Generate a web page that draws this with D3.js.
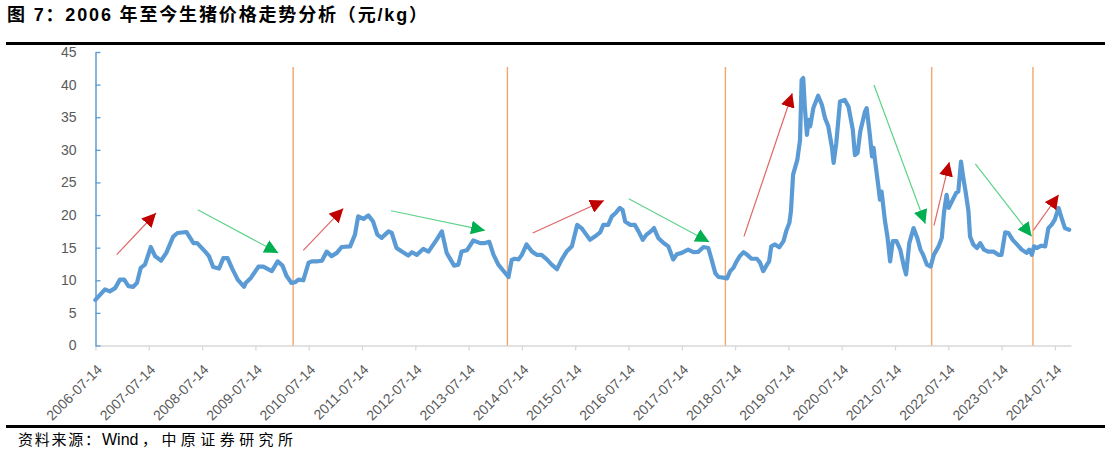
<!DOCTYPE html>
<html><head><meta charset="utf-8">
<script src="https://cdn.jsdelivr.net/npm/d3@7"></script>
<style>
html,body{margin:0;padding:0;background:#fff;}
svg{display:block;}
</style></head>
<body>
<svg id="chart" width="1110" height="452"></svg>
<script>
// ---- data (decimal year, price yuan/kg) ----
const years = [2006.53,2006.71,2006.80,2006.90,2006.99,2007.07,2007.15,2007.24,2007.31,2007.38,2007.46,2007.57,2007.65,2007.76,2007.86,2007.99,2008.07,2008.24,2008.37,2008.44,2008.59,2008.66,2008.74,2008.85,2008.93,2009.01,2009.09,2009.20,2009.32,2009.35,2009.45,2009.59,2009.68,2009.84,2009.95,2010.04,2010.12,2010.21,2010.28,2010.34,2010.43,2010.53,2010.59,2010.68,2010.78,2010.87,2010.96,2011.06,2011.15,2011.31,2011.40,2011.46,2011.56,2011.65,2011.74,2011.82,2011.90,2012.03,2012.09,2012.18,2012.28,2012.40,2012.47,2012.56,2012.68,2012.78,2012.93,2013.03,2013.12,2013.26,2013.34,2013.40,2013.50,2013.62,2013.75,2013.84,2013.92,2014.00,2014.09,2014.18,2014.28,2014.34,2014.40,2014.47,2014.53,2014.62,2014.72,2014.81,2014.90,2015.00,2015.09,2015.19,2015.28,2015.37,2015.47,2015.57,2015.65,2015.74,2015.81,2015.90,2016.00,2016.06,2016.15,2016.22,2016.30,2016.37,2016.42,2016.47,2016.56,2016.65,2016.72,2016.80,2016.87,2016.95,2017.01,2017.09,2017.19,2017.28,2017.37,2017.44,2017.53,2017.65,2017.75,2017.84,2017.94,2018.03,2018.09,2018.16,2018.22,2018.31,2018.38,2018.44,2018.50,2018.56,2018.62,2018.69,2018.76,2018.84,2018.94,2019.00,2019.06,2019.13,2019.17,2019.21,2019.28,2019.36,2019.44,2019.49,2019.55,2019.58,2019.62,2019.70,2019.75,2019.78,2019.81,2019.84,2019.88,2019.91,2019.94,2020.00,2020.09,2020.16,2020.22,2020.28,2020.35,2020.38,2020.43,2020.50,2020.59,2020.66,2020.74,2020.78,2020.83,2020.88,2020.97,2021.00,2021.06,2021.10,2021.13,2021.16,2021.22,2021.25,2021.28,2021.31,2021.34,2021.39,2021.44,2021.49,2021.56,2021.63,2021.70,2021.74,2021.80,2021.88,2021.95,2022.01,2022.06,2022.13,2022.20,2022.26,2022.35,2022.41,2022.45,2022.50,2022.54,2022.60,2022.68,2022.72,2022.77,2022.81,2022.86,2022.91,2022.94,2023.00,2023.07,2023.13,2023.20,2023.28,2023.38,2023.47,2023.53,2023.60,2023.66,2023.74,2023.82,2023.91,2024.00,2024.05,2024.10,2024.14,2024.19,2024.28,2024.35,2024.41,2024.47,2024.53,2024.60,2024.66,2024.72,2024.80];
const prices = [7.0,8.6,8.3,8.8,10.1,10.1,9.1,9.0,9.6,11.9,12.4,15.1,13.7,13.0,14.2,16.7,17.25,17.4,15.7,15.7,14.4,13.7,12.05,11.8,13.4,13.4,11.9,10.1,9.0,9.6,10.4,12.1,12.1,11.4,12.9,12.25,10.6,9.6,9.7,10.1,10.0,12.7,12.9,12.9,13.0,14.4,13.7,14.2,15.1,15.2,17.0,19.8,19.4,19.95,19.0,17.0,16.5,17.5,17.25,14.95,14.4,13.8,14.3,13.9,14.8,14.4,16.2,17.5,14.2,12.25,12.4,14.4,14.6,16.1,15.7,15.7,15.9,13.9,12.4,11.5,10.5,13.1,13.3,13.2,13.9,15.5,14.4,13.9,13.9,13.2,12.4,11.7,13.2,14.4,15.2,18.5,18.0,17.0,16.2,16.7,17.35,18.5,18.5,19.8,20.4,21.1,20.8,19.0,18.5,18.5,17.5,16.2,17.0,17.5,18.0,16.5,15.7,15.2,13.2,14.0,14.2,14.7,14.3,14.35,15.1,14.95,13.2,11.1,10.5,10.4,10.3,11.4,11.9,12.9,13.7,14.3,13.9,13.3,13.3,12.7,11.4,12.4,12.9,15.2,15.5,15.05,16.0,17.5,18.8,20.6,26.2,28.5,31.5,40.7,41.0,36.6,32.3,34.6,33.6,36.4,38.3,36.9,34.85,33.6,30.3,28.0,31.0,37.4,37.65,36.6,33.1,29.2,29.5,32.8,35.9,36.4,32.3,29.0,30.3,28.2,24.4,22.35,23.6,21.5,19.3,16.7,12.9,16.0,16.0,14.7,12.1,10.9,15.7,18.0,16.5,14.7,13.9,12.4,12.1,13.9,15.2,16.5,20.3,23.1,21.1,22.1,23.4,23.6,28.2,25.9,23.4,20.6,16.7,15.5,14.95,15.7,14.7,14.4,14.4,13.9,13.9,17.35,17.25,16.2,15.5,14.7,14.2,14.7,13.9,15.2,14.95,15.3,15.2,18.0,18.5,19.3,21.1,19.5,18.0,17.75];

const xTickYears = [2006.532,2007.532,2008.532,2009.532,2010.532,2011.532,2012.532,2013.532,2014.532,2015.532,2016.532,2017.532,2018.532,2019.532,2020.532,2021.532,2022.532,2023.532,2024.532];
const xTickLabels = ["2006-07-14","2007-07-14","2008-07-14","2009-07-14","2010-07-14","2011-07-14","2012-07-14","2013-07-14","2014-07-14","2015-07-14","2016-07-14","2017-07-14","2018-07-14","2019-07-14","2020-07-14","2021-07-14","2022-07-14","2023-07-14","2024-07-14"];
const yTicks = [0,5,10,15,20,25,30,35,40,45];

// cycle divider lines (decimal year), top value
const dividerYears = [2010.24, 2014.26, 2018.35, 2022.22, 2024.12];
const dividerTop = 42.7;

// trend arrows: [year1, value1, year2, value2]
const upArrows = [
  [2006.93,13.93,2007.667,20.31],
  [2010.431,14.59,2011.181,21.02],
  [2014.735,17.25,2016.072,22.24],
  [2018.699,16.73,2019.605,38.68],
  [2022.264,18.41,2022.551,28.12],
  [2024.127,17.65,2024.603,23.11]
];
const downArrows = [
  [2008.449,20.82,2009.962,14.19],
  [2012.076,20.66,2013.840,17.65],
  [2016.536,22.50,2018.048,15.87],
  [2021.138,39.95,2022.101,18.67],
  [2023.039,27.86,2024.096,16.73]
];

const titleText = "图 7：2006 年至今生猪价格走势分析（元/kg）";
const sourceParts = ["资料来源：", "Wind", "，中原证券研究所"];

// ---- drawing ----
const svg = d3.select("#chart");
const x = d3.scaleLinear().domain([2006.532, 2024.834]).range([95.5, 1071]);
const y = d3.scaleLinear().domain([0, 45]).range([345.5, 52]);

// title
svg.append("text").attr("x", 7).attr("y", 21)
  .attr("font-family", "'Liberation Sans','Noto Sans CJK SC',sans-serif")
  .attr("font-weight", "bold").attr("font-size", 18).attr("fill", "#000")
  .attr("textLength", 420).attr("lengthAdjust", "spacing")
  .text(titleText);

// rules
svg.append("line").attr("x1", 6).attr("x2", 1105).attr("y1", 43.5).attr("y2", 43.5)
  .attr("stroke", "#000").attr("stroke-width", 3);
svg.append("line").attr("x1", 6).attr("x2", 1105).attr("y1", 426.5).attr("y2", 426.5)
  .attr("stroke", "#000").attr("stroke-width", 3);

// source
const srcFont = "'Noto Sans CJK SC','Liberation Sans',sans-serif";
svg.append("text").attr("x", 18).attr("y", 445)
  .attr("font-family", srcFont).attr("font-size", 15).attr("fill", "#000")
  .attr("textLength", 82).attr("lengthAdjust", "spacing").text(sourceParts[0]);
svg.append("text").attr("x", 102).attr("y", 445)
  .attr("font-family", "'Liberation Sans',Arial,sans-serif").attr("font-size", 16).attr("fill", "#000")
  .text(sourceParts[1]);
svg.append("text").attr("x", 142).attr("y", 445)
  .attr("font-family", srcFont).attr("font-size", 15).attr("fill", "#000")
  .attr("textLength", 151).attr("lengthAdjust", "spacing").text(sourceParts[2]);

// x axis
const xAxis = d3.axisBottom(x).tickValues(xTickYears)
  .tickFormat((d, i) => xTickLabels[i]).tickSizeInner(5).tickSizeOuter(0);
const gx = svg.append("g").attr("transform", `translate(0,${y(0)})`).call(xAxis);
gx.select(".domain").attr("stroke", "#D9D9D9").attr("stroke-width", 1.3);
gx.selectAll(".tick line").attr("stroke", "#D9D9D9").attr("stroke-width", 1.3);
gx.selectAll(".tick text")
  .attr("font-family", "'Liberation Sans',Arial,sans-serif").attr("font-size", 14)
  .attr("fill", "#595959")
  .attr("text-anchor", "end").attr("dy", null).attr("y", 0)
  .attr("transform", "translate(7,25) rotate(-45)");

// y axis
const yAxis = d3.axisLeft(y).tickValues(yTicks).tickSizeInner(-5).tickSizeOuter(0).tickPadding(19);
const gy = svg.append("g").attr("transform", `translate(${x.range()[0]},0)`).call(yAxis);
gy.select(".domain").attr("stroke", "#5B9BD5").attr("stroke-width", 1.5);
gy.selectAll(".tick line").attr("stroke", "#5B9BD5").attr("stroke-width", 1.3);
gy.selectAll(".tick text")
  .attr("font-family", "'Liberation Sans',Arial,sans-serif").attr("font-size", 14)
  .attr("fill", "#595959");

// divider lines
svg.append("g").selectAll("line").data(dividerYears).join("line")
  .attr("x1", d => x(d)).attr("x2", d => x(d))
  .attr("y1", y(dividerTop)).attr("y2", y(0))
  .attr("stroke", "#F4A56E").attr("stroke-width", 1.4);

// price line
const pts = years.map((d, i) => [d, prices[i]]);
svg.append("path").datum(pts)
  .attr("d", d3.line().x(d => x(d[0])).y(d => y(d[1])))
  .attr("fill", "none").attr("stroke", "#5B9BD5").attr("stroke-width", 4.2)
  .attr("stroke-linejoin", "round").attr("stroke-linecap", "round");

// arrow markers
const defs = svg.append("defs");
function marker(id, color) {
  defs.append("marker").attr("id", id)
    .attr("markerUnits", "userSpaceOnUse")
    .attr("viewBox", "0 0 14 14").attr("refX", 14).attr("refY", 7)
    .attr("markerWidth", 14).attr("markerHeight", 14).attr("orient", "auto")
    .append("path").attr("d", "M0,0 L14,7 L0,14 Z").attr("fill", color);
}
marker("headRed", "#C00000");
marker("headGreen", "#00B050");

svg.append("g").selectAll("line").data(upArrows).join("line")
  .attr("x1", d => x(d[0])).attr("y1", d => y(d[1]))
  .attr("x2", d => x(d[2])).attr("y2", d => y(d[3]))
  .attr("stroke", "#E06666").attr("stroke-width", 1.2)
  .attr("marker-end", "url(#headRed)");
svg.append("g").selectAll("line").data(downArrows).join("line")
  .attr("x1", d => x(d[0])).attr("y1", d => y(d[1]))
  .attr("x2", d => x(d[2])).attr("y2", d => y(d[3]))
  .attr("stroke", "#5FD38A").attr("stroke-width", 1.2)
  .attr("marker-end", "url(#headGreen)");
</script>
</body></html>
